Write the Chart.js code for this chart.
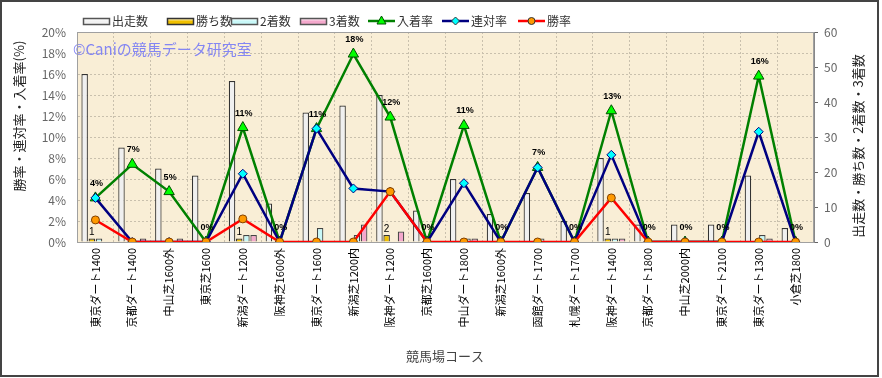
<!DOCTYPE html>
<html>
<head>
<meta charset="utf-8">
<script src="https://cdn.jsdelivr.net/npm/chart.js@4"></script>
<style>
  body { margin: 0; background: #fff; }
  canvas { display: block; }
</style>
</head>
<body>
<canvas id="myChart" width="882" height="378"></canvas>
<script>
// コース別成績
const courses = [
  "東京ダート1400", "京都ダート1400", "中山芝1600外", "東京芝1600", "新潟ダート1200",
  "阪神芝1600外", "東京ダート1600", "新潟芝1200内", "阪神ダート1200", "京都芝1600内",
  "中山ダート1800", "新潟芝1600外", "函館ダート1700", "札幌ダート1700", "阪神ダート1400",
  "京都ダート1800", "中山芝2000内", "東京ダート2100", "東京ダート1300", "小倉芝1800"
];
const starts  = [48, 27, 21, 19, 46, 11, 37, 39, 42, 9, 18, 8, 14, 6, 24, 5, 5, 5, 19, 4];
const wins    = [1, 0, 0, 0, 1, 0, 0, 0, 2, 0, 0, 0, 0, 0, 1, 0, 0, 0, 0, 0];
const seconds = [1, 0, 0, 0, 2, 0, 4, 2, 0, 0, 1, 0, 1, 0, 1, 0, 0, 0, 2, 0];
const thirds  = [0, 1, 1, 0, 2, 0, 0, 5, 3, 0, 1, 0, 0, 0, 1, 0, 0, 0, 1, 0];
// 率 (%)
const placeRate = [4.2, 7.4, 4.8, 0, 10.9, 0, 10.8, 17.9, 11.9, 0, 11.1, 0, 7.1, 0, 12.5, 0, 0, 0, 15.8, 0];
const quinRate  = [4.2, 0, 0, 0, 6.5, 0, 10.8, 5.1, 4.8, 0, 5.6, 0, 7.1, 0, 8.3, 0, 0, 0, 10.5, 0];
const winRate   = [2.1, 0, 0, 0, 2.2, 0, 0, 0, 4.8, 0, 0, 0, 0, 0, 4.2, 0, 0, 0, 0, 0];

const leftTicks  = [0, 20, 2];   // min, max, step (%)
const rightTicks = [0, 60, 10];

const JP = "'Noto Sans CJK JP', 'DejaVu Sans', sans-serif";

const legendItems = [
  { text: "出走数", kind: "bar", fill: "#f2f2f2", stroke: "#555", x: 83 },
  { text: "勝ち数", kind: "bar", fill: "#f0c000", stroke: "#333", x: 167 },
  { text: "2着数", kind: "bar", fill: "#c8f8f8", stroke: "#555", x: 231 },
  { text: "3着数", kind: "bar", fill: "#f4a8cc", stroke: "#555", x: 300 },
  { text: "入着率", kind: "line", line: "#008000", fill: "#00ff00", marker: "triangle", x: 368 },
  { text: "連対率", kind: "line", line: "#000080", fill: "#00ffff", marker: "diamond", x: 442 },
  { text: "勝率", kind: "line", line: "#ff0000", fill: "#ff9900", marker: "circle", x: 518 }
];

function drawMarker(ctx, type, x, y, fill, stroke) {
  ctx.save();
  ctx.fillStyle = fill;
  ctx.strokeStyle = stroke;
  ctx.lineWidth = 1;
  ctx.beginPath();
  if (type === "triangle") {
    ctx.moveTo(x, y - 5); ctx.lineTo(x + 4.5, y + 3); ctx.lineTo(x - 4.5, y + 3); ctx.closePath();
  } else if (type === "diamond") {
    ctx.moveTo(x, y - 4); ctx.lineTo(x + 4, y); ctx.lineTo(x, y + 4); ctx.lineTo(x - 4, y); ctx.closePath();
  } else {
    ctx.arc(x, y, 3.5, 0, Math.PI * 2);
  }
  ctx.fill(); ctx.stroke();
  ctx.restore();
}

const decor = {
  id: "decor",
  beforeDraw(chart) {
    const { ctx, chartArea: a } = chart;
    ctx.save();
    ctx.fillStyle = "#fff";
    ctx.fillRect(0, 0, chart.width, chart.height);
    ctx.fillStyle = "#f9eed6";
    ctx.fillRect(a.left, a.top, a.right - a.left, a.bottom - a.top);
    ctx.restore();
  },
  beforeDatasetsDraw(chart) {
    const { ctx, chartArea: a } = chart;
    ctx.save();
    ctx.font = "15px " + JP;
    ctx.fillStyle = "#8486f2";
    ctx.textBaseline = "middle";
    ctx.fillText("©Caniの競馬データ研究室", a.left - 4, 49);
    ctx.restore();
  },
  afterDatasetsDraw(chart) {
    const { ctx } = chart;
    ctx.save();
    ctx.textAlign = "center";
    ctx.textBaseline = "bottom";
    ctx.fillStyle = "#000";
    // 入着率ラベル
    const pm = chart.getDatasetMeta(4);
    ctx.font = "bold 9px 'Liberation Sans', sans-serif";
    pm.data.forEach((pt, i) => {
      ctx.fillText(Math.round(placeRate[i]) + "%", pt.x + 1, pt.y - 10);
    });
    // 勝ち数ラベル
    const wm = chart.getDatasetMeta(1);
    ctx.font = "10px 'Liberation Sans', sans-serif";
    wm.data.forEach((bar, i) => {
      if (wins[i] > 0) ctx.fillText(String(wins[i]), bar.x, bar.y - 1);
    });
    ctx.restore();
  },
  afterDraw(chart) {
    const { ctx, chartArea: a } = chart;
    ctx.save();
    // plot frame
    ctx.strokeStyle = "#a0a0a0";
    ctx.lineWidth = 1;
    ctx.strokeRect(a.left + 0.5, a.top + 0.5, a.right - a.left - 1, a.bottom - a.top);
    // axis titles
    ctx.fillStyle = "#222";
    ctx.font = "13px " + JP;
    ctx.textAlign = "center";
    ctx.textBaseline = "middle";
    ctx.save();
    ctx.translate(19, 116);
    ctx.rotate(-Math.PI / 2);
    ctx.fillText("勝率・連対率・入着率(%)", 0, 0);
    ctx.restore();
    ctx.save();
    ctx.translate(858, 146);
    ctx.rotate(-Math.PI / 2);
    ctx.fillText("出走数・勝ち数・2着数・3着数", 0, 0);
    ctx.restore();
    ctx.fillStyle = "#444";
    ctx.fillText("競馬場コース", 445, 356);
    // legend
    ctx.font = "12px " + JP;
    ctx.textAlign = "left";
    legendItems.forEach(it => {
      const y = 21;
      if (it.kind === "bar") {
        const g = ctx.createLinearGradient(0, y - 3, 0, y + 4);
        g.addColorStop(0, "#fff");
        g.addColorStop(0.5, it.fill);
        g.addColorStop(1, it.fill);
        ctx.fillStyle = g;
        ctx.fillRect(it.x, y - 3, 26, 6);
        ctx.strokeStyle = it.stroke;
        ctx.lineWidth = 1.5;
        ctx.strokeRect(it.x + 0.5, y - 3 + 0.5, 26, 6);
      } else {
        ctx.strokeStyle = it.line;
        ctx.lineWidth = 2.5;
        ctx.beginPath();
        ctx.moveTo(it.x, y); ctx.lineTo(it.x + 27, y);
        ctx.stroke();
        drawMarker(ctx, it.marker, it.x + 13.5, y, it.fill, it.line === "#008000" ? "#005000" : "#333");
      }
      ctx.fillStyle = "#333";
      ctx.fillText(it.text, it.x + 29, y);
    });
    // outer border
    ctx.strokeStyle = "#444";
    ctx.lineWidth = 2;
    ctx.strokeRect(1, 1, 877, 375);
    ctx.restore();
  }
};

const barCommon = { yAxisID: "y1", borderWidth: 1.2, order: 10, categoryPercentage: 0.78, barPercentage: 0.9 };
const lineCommon = { type: "line", yAxisID: "y", borderWidth: 2.5, pointBorderWidth: 1, tension: 0 };

const ctx = document.getElementById("myChart").getContext("2d");
const myChart = new Chart(ctx, {
  type: "bar",
  data: {
    labels: courses,
    datasets: [
      { ...barCommon, label: "出走数", data: starts, backgroundColor: "#f0f0f0", borderColor: "#333" },
      { ...barCommon, label: "勝ち数", data: wins, backgroundColor: "#f0c000", borderColor: "#333" },
      { ...barCommon, label: "2着数", data: seconds, backgroundColor: "#c8f8f8", borderColor: "#444" },
      { ...barCommon, label: "3着数", data: thirds, backgroundColor: "#f4a8cc", borderColor: "#444" },
      { ...lineCommon, label: "入着率", data: placeRate, borderColor: "#008000", backgroundColor: "#00ff00",
        pointStyle: "triangle", pointRadius: 6, pointBorderColor: "#005000", order: 3 },
      { ...lineCommon, label: "連対率", data: quinRate, borderColor: "#000080", backgroundColor: "#00ffff",
        pointStyle: "rectRot", pointRadius: 4.5, pointBorderColor: "#000080", order: 2 },
      { ...lineCommon, label: "勝率", data: winRate, borderColor: "#ff0000", backgroundColor: "#ff9900",
        pointStyle: "circle", pointRadius: 4, pointBorderColor: "#804000", order: 1 }
    ]
  },
  options: {
    responsive: false,
    animation: false,
    events: [],
    layout: { padding: { top: 32, left: 0, right: 0, bottom: 0 } },
    plugins: { legend: { display: false }, tooltip: { enabled: false } },
    scales: {
      x: {
        offset: true,
        grid: { offset: true, color: "#c9c0ad", drawTicks: false },
        border: { color: "#888", dash: [2, 2] },
        ticks: { autoSkip: false, minRotation: 90, maxRotation: 90, padding: 6, color: "#000",
          font: { size: 11, family: JP } },
        afterFit(s) { s.height = 136; }
      },
      y: {
        position: "left",
        min: leftTicks[0], max: leftTicks[1],
        grid: { color: "#c9c0ad", drawTicks: false },
        border: { color: "#999", dash: [2, 2] },
        ticks: { stepSize: leftTicks[2], padding: 11, color: "#666", font: { size: 12, family: JP },
          callback: v => v + "%" },
        afterFit(s) { s.width = 77; }
      },
      y1: {
        position: "right",
        min: rightTicks[0], max: rightTicks[1],
        grid: { drawOnChartArea: false, tickLength: 4, color: "#666" },
        border: { color: "#888" },
        ticks: { stepSize: rightTicks[2], padding: 6, color: "#666", font: { size: 12, family: JP } },
        afterFit(s) { s.width = 68; }
      }
    }
  },
  plugins: [decor]
});
</script>
</body>
</html>
